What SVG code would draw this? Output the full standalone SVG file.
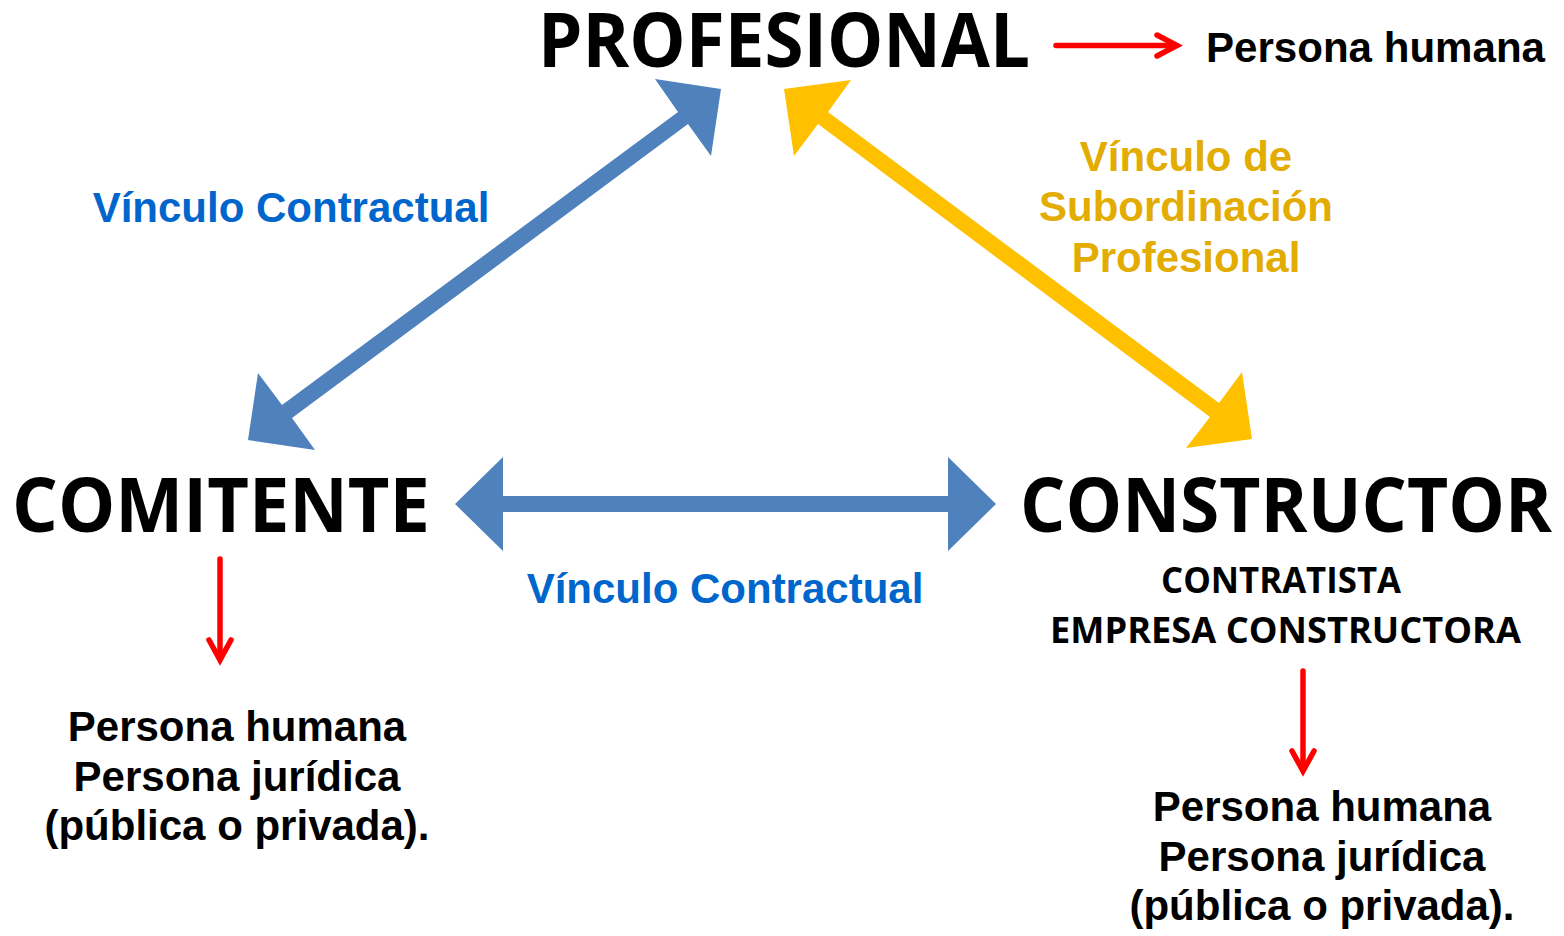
<svg xmlns="http://www.w3.org/2000/svg" width="1564" height="936" viewBox="0 0 1564 936">
<style>
.title{font-family:"Open Sans","DejaVu Sans",sans-serif;font-weight:700;font-size:76px;fill:#000}
.sub{font-family:"Open Sans","DejaVu Sans",sans-serif;font-weight:700;font-size:35px;fill:#000}
.body{font-family:"Liberation Sans",Arial,sans-serif;font-weight:700;font-size:42px;fill:#000}
.blue{font-family:"Liberation Sans",Arial,sans-serif;font-weight:700;font-size:42px;fill:#0066CC}
.gold{font-family:"Liberation Sans",Arial,sans-serif;font-weight:700;font-size:42px;fill:#E3AC00}
.red{fill:none;stroke:#FF0000;stroke-width:5.5;stroke-linecap:round;stroke-linejoin:miter}
</style>
<rect width="1564" height="936" fill="#fff"/>
<g id="connectors">
  <polygon fill="#4F81BD" points="721,89 655,79 678,112 282,405 258,373 248,440 315,450 292,418 688,124 711,156"/>
  <polygon fill="#FFC000" points="784,89 851,80 828,112 1219,403 1242,372 1252,439 1186,448 1210,417 818,124 794,156"/>
  <polygon fill="#4F81BD" points="455,504 503,457 503,496 948,496 948,457 996,504 948,551 948,512 503,512 503,551"/>
  <g class="red">
    <line x1="1056" y1="45.5" x2="1174" y2="45.5"/>
    <polyline points="1157,35 1177,45.5 1157,56"/>
    <line x1="220" y1="559" x2="220" y2="658"/>
    <polyline points="209,640 220,660 231,640"/>
    <line x1="1303" y1="671" x2="1303" y2="769"/>
    <polyline points="1292,751 1303,771 1314,751"/>
  </g>
</g>
<g id="profesional">
  <text class="title" x="538" y="67" textLength="492" lengthAdjust="spacingAndGlyphs">PROFESIONAL</text>
</g>
<g id="profesional-tipo">
  <text class="body" x="1206" y="62" textLength="339" lengthAdjust="spacingAndGlyphs">Persona humana</text>
</g>
<g id="comitente">
  <text class="title" x="12" y="532" textLength="418" lengthAdjust="spacingAndGlyphs">COMITENTE</text>
</g>
<g id="comitente-tipo">
  <text class="body" x="237" y="741" text-anchor="middle">Persona humana</text>
  <text class="body" x="237" y="791" text-anchor="middle">Persona jurídica</text>
  <text class="body" x="237" y="840" text-anchor="middle">(pública o privada).</text>
</g>
<g id="constructor">
  <text class="title" x="1020" y="532" textLength="532" lengthAdjust="spacingAndGlyphs">CONSTRUCTOR</text>
  <text class="sub" x="1161" y="593" textLength="240" lengthAdjust="spacingAndGlyphs">CONTRATISTA</text>
  <text class="sub" x="1050" y="643" textLength="471" lengthAdjust="spacingAndGlyphs">EMPRESA CONSTRUCTORA</text>
</g>
<g id="constructor-tipo">
  <text class="body" x="1322" y="821" text-anchor="middle">Persona humana</text>
  <text class="body" x="1322" y="871" text-anchor="middle">Persona jurídica</text>
  <text class="body" x="1322" y="920" text-anchor="middle">(pública o privada).</text>
</g>
<g id="label-vinculo-1">
  <text class="blue" x="291" y="222" text-anchor="middle">Vínculo Contractual</text>
</g>
<g id="label-vinculo-2">
  <text class="blue" x="725" y="603" text-anchor="middle">Vínculo Contractual</text>
</g>
<g id="label-subordinacion">
  <text class="gold" x="1186" y="171" text-anchor="middle">Vínculo de</text>
  <text class="gold" x="1186" y="221" text-anchor="middle">Subordinación</text>
  <text class="gold" x="1186" y="272" text-anchor="middle">Profesional</text>
</g>
</svg>
